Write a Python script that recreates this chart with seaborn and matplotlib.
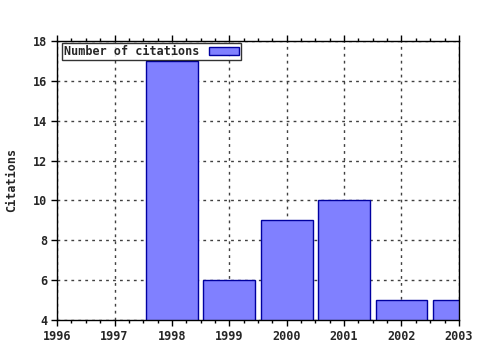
import matplotlib
matplotlib.use("Agg")
import matplotlib.pyplot as plt
import seaborn as sns
from matplotlib.ticker import MultipleLocator

years = [1998, 1999, 2000, 2001, 2002, 2003]
citations = [17, 6, 9, 10, 5, 5]
xticks = [1996, 1997, 1998, 1999, 2000, 2001, 2002, 2003]
yticks = [4, 6, 8, 10, 12, 14, 16, 18]

sns.set_style("white")
plt.rcParams['font.family'] = ['DejaVu Sans Mono', 'DejaVu Sans']
plt.rcParams['font.weight'] = 'bold'

fig = plt.figure(figsize=(4.8, 3.5), dpi=100)
ax = fig.add_axes([0.119, 0.086, 0.837, 0.797])

sns.barplot(x=years, y=citations, native_scale=True, width=0.9,
            color="#8080ff", edgecolor="#0000a0", linewidth=1.0,
            saturation=1, label="Number of citations", ax=ax, zorder=2)

ax.set_xlim(1996, 2003)
ax.set_ylim(4, 18)
ax.set_xticks(xticks)
ax.set_xticklabels([str(v) for v in xticks])
ax.set_yticks(yticks)
ax.set_yticklabels([str(v) for v in yticks])
ax.xaxis.set_minor_locator(MultipleLocator(0.25))
ax.tick_params(axis='both', which='major', labelsize=8.5, length=4, width=1,
               color='black', direction='out', top=True, right=False,
               bottom=True, left=True, pad=3)
ax.tick_params(axis='x', which='minor', length=2, width=1, color='black',
               direction='out', top=True, bottom=True)
for lab in ax.get_xticklabels() + ax.get_yticklabels():
    lab.set_fontweight('bold')

ax.grid(True, which='major', color='#404040', linestyle=(0, (2, 3)), linewidth=1)
ax.set_axisbelow(True)
for s in ax.spines.values():
    s.set_visible(True)
    s.set_color('black')
    s.set_linewidth(1)

ax.set_xlabel("")
ax.set_ylabel("Citations", fontsize=8.5, fontweight='bold', labelpad=11)

leg = ax.legend(loc='upper left', bbox_to_anchor=(0.012, 0.992), markerfirst=False,
                frameon=True, fancybox=False, borderpad=0.15, handlelength=2.6,
                handleheight=0.6, handletextpad=0.8, borderaxespad=0,
                prop={'family': 'DejaVu Sans Mono', 'weight': 'bold', 'size': 8.5})
leg.get_frame().set_edgecolor('black')
leg.get_frame().set_linewidth(1)

fig.savefig("out.png", dpi=100)
